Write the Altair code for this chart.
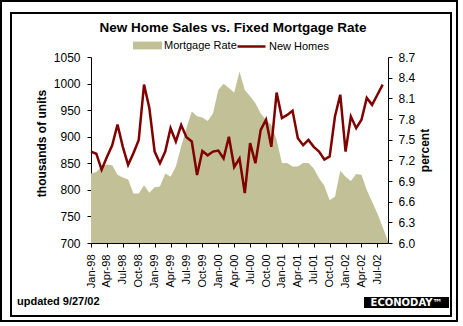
import altair as alt
import pandas as pd

# ---------------- data ----------------
tick_labels = ["Jan-98", "Apr-98", "Jul-98", "Oct-98", "Jan-99", "Apr-99", "Jul-99",
               "Oct-99", "Jan-00", "Apr-00", "Jul-00", "Oct-00", "Jan-01", "Apr-01",
               "Jul-01", "Oct-01", "Jan-02", "Apr-02", "Jul-02"]

# New home sales, thousands of units, monthly Jan-98 .. Aug-02
new_homes = [872, 868, 838, 862, 884, 923, 881, 847, 869, 894, 998, 954,
             872, 850, 872, 916, 891, 922, 899, 891, 828, 873, 865, 872,
             874, 859, 900, 843, 859, 794, 888, 850, 913, 932, 881, 983,
             935, 941, 949, 897, 884, 894, 881, 872, 857, 863, 938, 979,
             872, 938, 916, 932, 973, 960, 979, 998]

# Fixed mortgage rate, percent, monthly Jan-98 .. Sep-02
mortgage_rate = [7.01, 7.03, 7.11, 7.14, 7.13, 6.99, 6.95, 6.92, 6.72, 6.72, 6.84, 6.73,
                 6.81, 6.82, 7.01, 6.96, 7.11, 7.40, 7.67, 7.91, 7.84, 7.82, 7.77, 7.88,
                 8.22, 8.31, 8.25, 8.18, 8.49, 8.22, 8.13, 8.03, 7.88, 7.79, 7.71, 7.50,
                 7.16, 7.16, 7.11, 7.11, 7.16, 7.16, 7.08, 6.94, 6.83, 6.62, 6.67, 7.05,
                 6.96, 6.90, 7.00, 6.99, 6.77, 6.60, 6.43, 6.23, 6.03]

left_ticks = [700, 750, 800, 850, 900, 950, 1000, 1050]
right_ticks = [6.0, 6.3, 6.6, 6.9, 7.2, 7.5, 7.8, 8.1, 8.4, 8.7]

title_text = ["New Home Sales vs. Fixed Mortgage Rate"]
footer_text = ["updated 9/27/02"]
logo_text = ["ECONODAY\u2122"]

# ---------------- styling ----------------
FONT = "Liberation Sans"
OLIVE = "#C1C097"
DARKRED = "#800000"
RATE_MIN = 6.0

homes_df = pd.DataFrame({"month": list(range(len(new_homes))), "value": new_homes,
                         "series": "New Homes"})
rate_df = pd.DataFrame({"month": list(range(len(mortgage_rate))), "value": mortgage_rate,
                        "series": "Mortgage Rate"})

tick_pos = [3 * k for k in range(len(tick_labels))]
label_array = "[" + ",".join("'" + t + "'" for t in tick_labels) + "]"

x_scale = alt.Scale(domain=[0, 56], nice=False, zero=False)
x_axis = alt.Axis(values=tick_pos, labelExpr=label_array + "[round(datum.value/3)]",
                  labelAngle=270, labelFont=FONT, labelFontSize=11, labelColor="black",
                  labelPadding=7, tickSize=4, tickColor="black", domainColor="black",
                  labelOverlap=False, grid=False, title=None)

area = alt.Chart(rate_df).mark_area(opacity=1).encode(
    x=alt.X("month:Q", scale=x_scale, axis=x_axis),
    y=alt.Y("value:Q",
            scale=alt.Scale(domain=[6.0, 8.7], nice=False, zero=False),
            axis=alt.Axis(orient="right", values=right_ticks, format=".1f",
                          title="percent", titleFont=FONT, titleFontSize=12,
                          titleFontWeight="bold", titleColor="black", titleAngle=270,
                          titleBaseline="alphabetic", titleX=40, titleY=93,
                          labelFont=FONT, labelFontSize=12, labelColor="black",
                          labelPadding=6, tickSize=4, tickColor="black",
                          domainColor="black", grid=False)),
    y2=alt.Y2(datum=RATE_MIN),
    fill=alt.Fill("series:N",
                  scale=alt.Scale(domain=["Mortgage Rate"], range=[OLIVE]),
                  legend=alt.Legend(orient="none", legendX=42, legendY=-26, title=None,
                                    direction="horizontal",
                                    symbolType="M-1,-0.27H1V0.27H-1Z", symbolSize=841,
                                    symbolStrokeWidth=0, symbolOpacity=1,
                                    labelFont=FONT, labelFontSize=11, labelColor="black",
                                    labelOffset=2, padding=0)),
)

line = alt.Chart(homes_df).mark_line(strokeWidth=2.5).encode(
    x=alt.X("month:Q", scale=x_scale, axis=x_axis),
    y=alt.Y("value:Q",
            scale=alt.Scale(domain=[700, 1050], nice=False, zero=False),
            axis=alt.Axis(orient="left", values=left_ticks, format="d",
                          title="thousands of units",
                          titleFont=FONT, titleFontSize=12, titleFontWeight="bold",
                          titleColor="black", titleAngle=270, titleBaseline="alphabetic",
                          titleX=-46, titleY=86,
                          labelFont=FONT, labelFontSize=12, labelColor="black",
                          labelPadding=7, tickSize=4, tickColor="black",
                          domainColor="black", grid=False)),
    stroke=alt.Stroke("series:N",
                      scale=alt.Scale(domain=["New Homes"], range=[DARKRED]),
                      legend=alt.Legend(orient="none", legendX=145, legendY=-26, title=None,
                                        direction="horizontal", symbolType="stroke",
                                        symbolSize=784, symbolStrokeWidth=2.5,
                                        labelFont=FONT, labelFontSize=11,
                                        labelColor="black", labelOffset=2, padding=0)),
)

one = pd.DataFrame({"k": [0]})
outer_frame = alt.Chart(one).mark_rect(fill="transparent", stroke="black", strokeWidth=2).encode(
    x=alt.value(-90), x2=alt.value(366), y=alt.value(-56), y2=alt.value(264))
inner_frame = alt.Chart(one).mark_rect(fill="transparent", stroke="black", strokeWidth=2).encode(
    x=alt.value(-80), x2=alt.value(360), y=alt.value(-44), y2=alt.value(259))

title = alt.Chart(pd.DataFrame({"t": title_text})).mark_text(
    align="center", baseline="alphabetic", font=FONT, fontSize=13.5, fontWeight="bold",
    color="black").encode(x=alt.value(142), y=alt.value(-25.5), text="t:N")

footer = alt.Chart(pd.DataFrame({"t": footer_text})).mark_text(
    align="left", baseline="alphabetic", font=FONT, fontSize=11, fontWeight="bold",
    color="black").encode(x=alt.value(-74), y=alt.value(248), text="t:N")

logo_box = alt.Chart(one).mark_rect(fill="black").encode(
    x=alt.value(273), x2=alt.value(358), y=alt.value(240), y2=alt.value(251))
logo = alt.Chart(pd.DataFrame({"t": logo_text})).mark_text(
    align="center", baseline="middle", font="DejaVu Sans", fontSize=10, fontWeight="bold",
    color="white").encode(x=alt.value(315.5), y=alt.value(246), text="t:N")

chart = alt.layer(area, line, outer_frame, inner_frame, title, footer, logo_box, logo).resolve_scale(
    y="independent"
).properties(
    width=297, height=186,
    autosize="none",
    padding={"left": 91, "top": 57, "right": 75, "bottom": 83},
    background="white",
).configure_view(stroke=None)

chart.save("out.html", embed_options={"renderer": "svg", "actions": False})
